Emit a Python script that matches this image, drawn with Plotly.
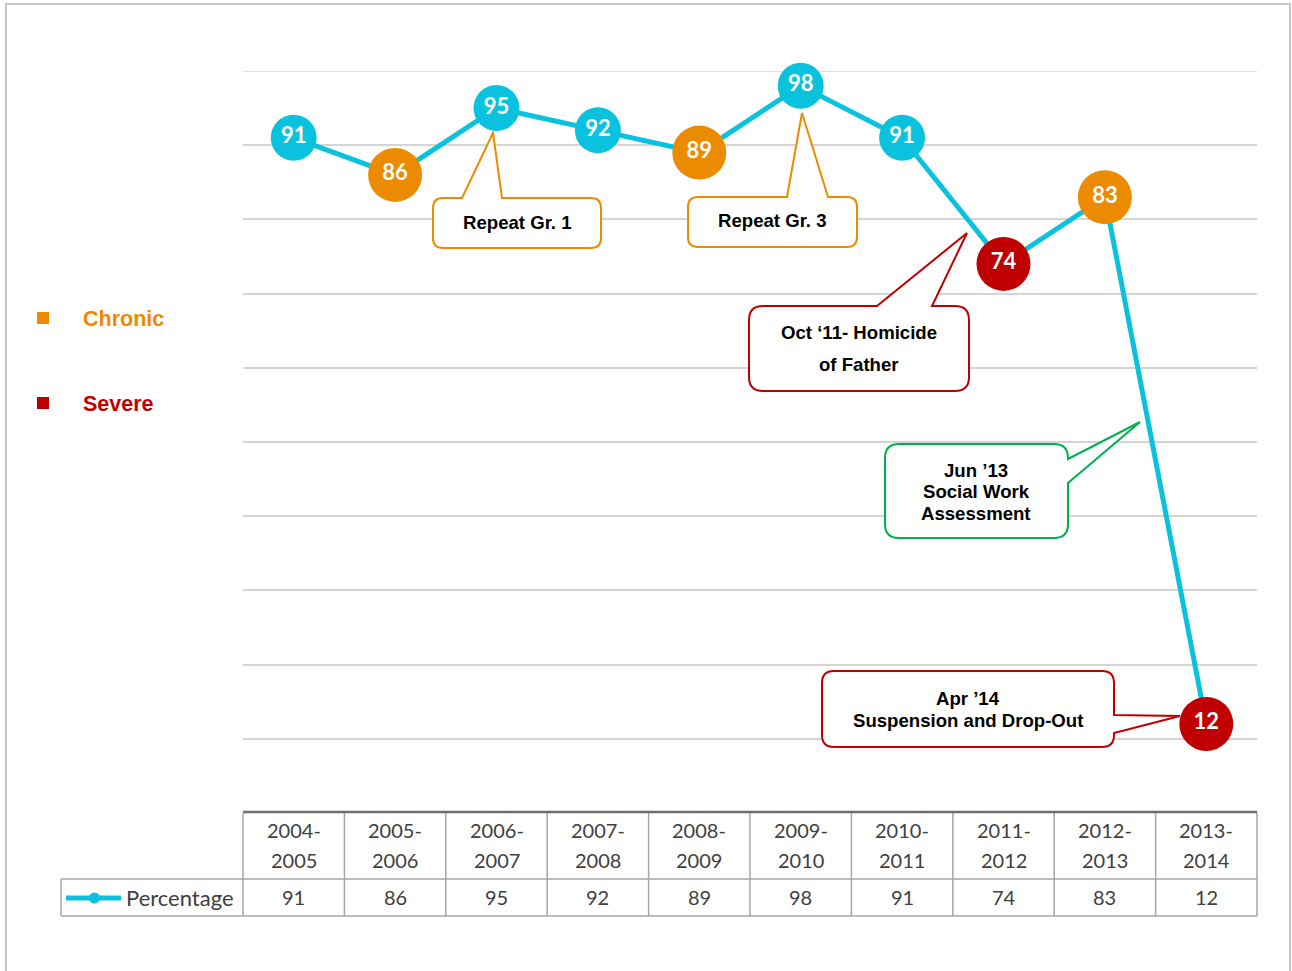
import plotly.graph_objects as go

# ---------------- data ----------------
years = ["2004-2005", "2005-2006", "2006-2007", "2007-2008", "2008-2009",
         "2009-2010", "2010-2011", "2011-2012", "2012-2013", "2013-2014"]
percentage = [91, 86, 95, 92, 89, 98, 91, 74, 83, 12]
status = ["normal", "chronic", "normal", "normal", "chronic",
          "normal", "normal", "severe", "chronic", "severe"]
series_name = "Percentage"
legend_items = ["Chronic", "Severe"]

# ---------------- styles ----------------
CYAN = "#0BC2DE"
ORANGE = "#EC8B00"
RED = "#C00000"
GREEN = "#00B050"
colour_of = {"normal": CYAN, "chronic": ORANGE, "severe": RED}
size_of = {"normal": 46, "chronic": 54, "severe": 54}

W, H = 1292, 971
L, R, T, B = 243, 35, 71, 158
PW, PH = W - L - R, H - T - B


def px(x):
    return (x - L) / PW


def py(y):
    return (H - B - y) / PH


fig = go.Figure()
fig.add_trace(go.Scatter(
    x=years, y=percentage,
    mode="lines+markers+text",
    line=dict(color=CYAN, width=5),
    marker=dict(color=[colour_of[s] for s in status], opacity=1,
                size=[size_of[s] for s in status], line=dict(width=0)),
    text=[str(v) for v in percentage],
    textposition="middle center",
    textfont=dict(color="white", size=22, family="Lato", weight="bold"),
    cliponaxis=False, hoverinfo="x+y", name=series_name,
))

shapes = []
annotations = []

# outer frame
shapes.append(dict(type="rect", xref="paper", yref="paper",
                   x0=px(6), x1=px(1290), y0=py(1000), y1=py(4),
                   line=dict(color="#C8C8C8", width=2), layer="below"))
# top gridline (100)
shapes.append(dict(type="line", xref="paper", yref="y", x0=0, x1=1, y0=100, y1=100,
                   line=dict(color="#D4D4D4", width=1.5), layer="below"))

# ---------------- table ----------------
TABLE_LINE = dict(color="#A6A6A6", width=1.5)
n = len(years)
y_top, y_mid, y_bot = 813, 879, 916
for i in range(n + 1):
    xp = i / n
    shapes.append(dict(type="line", xref="paper", yref="paper",
                       x0=xp, x1=xp, y0=py(y_top), y1=py(y_bot), line=TABLE_LINE))
for yy in (y_mid, y_bot):
    shapes.append(dict(type="line", xref="paper", yref="paper",
                       x0=px(61), x1=1, y0=py(yy), y1=py(yy), line=TABLE_LINE))
shapes.append(dict(type="line", xref="paper", yref="paper",
                   x0=px(61), x1=px(61), y0=py(y_mid), y1=py(y_bot), line=TABLE_LINE))
# top of table / axis line
shapes.append(dict(type="line", xref="paper", yref="paper",
                   x0=0, x1=1, y0=py(812), y1=py(812),
                   line=dict(color="#6E6E6E", width=2.5)))

TFONT = dict(family="Lato", size=20, color="#404040")
for i, yr in enumerate(years):
    a, b = yr.split("-")
    annotations.append(dict(x=yr, xref="x", y=py(830), yref="paper", text=a + "-",
                            showarrow=False, font=TFONT, xanchor="center", yanchor="middle"))
    annotations.append(dict(x=yr, xref="x", y=py(860), yref="paper", text=b,
                            showarrow=False, font=TFONT, xanchor="center", yanchor="middle"))
    annotations.append(dict(x=yr, xref="x", y=py(897), yref="paper", text=str(percentage[i]),
                            showarrow=False, font=TFONT, xanchor="center", yanchor="middle"))
annotations.append(dict(x=px(124), xref="paper", y=py(897), yref="paper", text=series_name,
                        showarrow=False, font=dict(family="Lato", size=22, color="#404040"),
                        xanchor="left", yanchor="middle"))
# legend key in table
shapes.append(dict(type="line", xref="paper", yref="paper",
                   x0=px(66), x1=px(121), y0=py(898), y1=py(898),
                   line=dict(color=CYAN, width=5)))
shapes.append(dict(type="circle", xref="paper", yref="paper",
                   x0=px(89), x1=px(100), y0=py(892.5), y1=py(903.5),
                   fillcolor=CYAN, line=dict(width=0)))

# ---------------- left legend ----------------
for label, col, yc in ((legend_items[0], ORANGE, 318), (legend_items[1], RED, 403)):
    shapes.append(dict(type="rect", xref="paper", yref="paper",
                       x0=px(37), x1=px(49), y0=py(yc - 6), y1=py(yc + 6),
                       fillcolor=col, line=dict(width=0)))
    annotations.append(dict(x=px(81), xref="paper", y=py(yc + 1), yref="paper", text=label,
                            showarrow=False,
                            font=dict(family="Liberation Sans, Arial", size=21.5, color=col,
                                      weight="bold"),
                            xanchor="left", yanchor="middle"))


# ---------------- callouts ----------------
def callout(x0, y0, x1, y1, r, side, p1, p2, tip, colour):
    def P(x, y):
        return f"{px(x):.6f},{py(y):.6f}"
    d = f"M {P(x0 + r, y0)} "
    if side == "top":
        d += f"L {P(p1, y0)} L {P(*tip)} L {P(p2, y0)} "
    d += f"L {P(x1 - r, y0)} Q {P(x1, y0)} {P(x1, y0 + r)} "
    if side == "right":
        d += f"L {P(x1, p1)} L {P(*tip)} L {P(x1, p2)} "
    d += f"L {P(x1, y1 - r)} Q {P(x1, y1)} {P(x1 - r, y1)} "
    d += f"L {P(x0 + r, y1)} Q {P(x0, y1)} {P(x0, y1 - r)} "
    d += f"L {P(x0, y0 + r)} Q {P(x0, y0)} {P(x0 + r, y0)} Z"
    return dict(type="path", xref="paper", yref="paper", path=d,
                fillcolor="white", line=dict(color=colour, width=2))


shapes.append(callout(433, 198, 601, 248, 10, "top", 462, 502, (493, 133), ORANGE))
shapes.append(callout(688, 197, 857, 247, 10, "top", 787, 828, (802, 113), ORANGE))
shapes.append(callout(749, 306, 969, 391, 14, "top", 877, 932, (967, 233), RED))
shapes.append(callout(885, 444, 1068, 538, 14, "right", 459, 483, (1140, 422), GREEN))
shapes.append(callout(822, 671, 1114, 747, 12, "right", 715, 733, (1180, 716), RED))

CFONT = dict(family="Liberation Sans, Arial", size=18.6, color="black", weight="bold")
for txt, xc, yc in (("Repeat Gr. 1", 517, 222),
                    ("Repeat Gr. 3", 772, 221),
                    ("Oct \u201811- Homicide", 859, 332),
                    ("of Father", 859, 364),
                    ("Jun \u201913", 976, 470),
                    ("Social Work", 976, 491),
                    ("Assessment", 976, 513),
                    ("Apr \u201914", 968, 698),
                    ("Suspension and Drop-Out", 968, 720)):
    annotations.append(dict(x=px(xc), xref="paper", y=py(yc), yref="paper", text=txt,
                            showarrow=False, font=CFONT, xanchor="center", yanchor="middle",
                            align="center"))

fig.update_layout(
    width=W, height=H,
    margin=dict(l=L, r=R, t=T, b=B, pad=0),
    paper_bgcolor="white", plot_bgcolor="white",
    showlegend=False,
    xaxis=dict(range=[-0.5, n - 0.5], showticklabels=False, showgrid=False,
               zeroline=False, showline=False, ticks=""),
    yaxis=dict(range=[0, 100], dtick=10, showticklabels=False, showgrid=True,
               gridcolor="#D4D4D4", gridwidth=1.5, zeroline=False, showline=False, ticks=""),
    shapes=shapes, annotations=annotations,
)

fig.write_html("out.html")
